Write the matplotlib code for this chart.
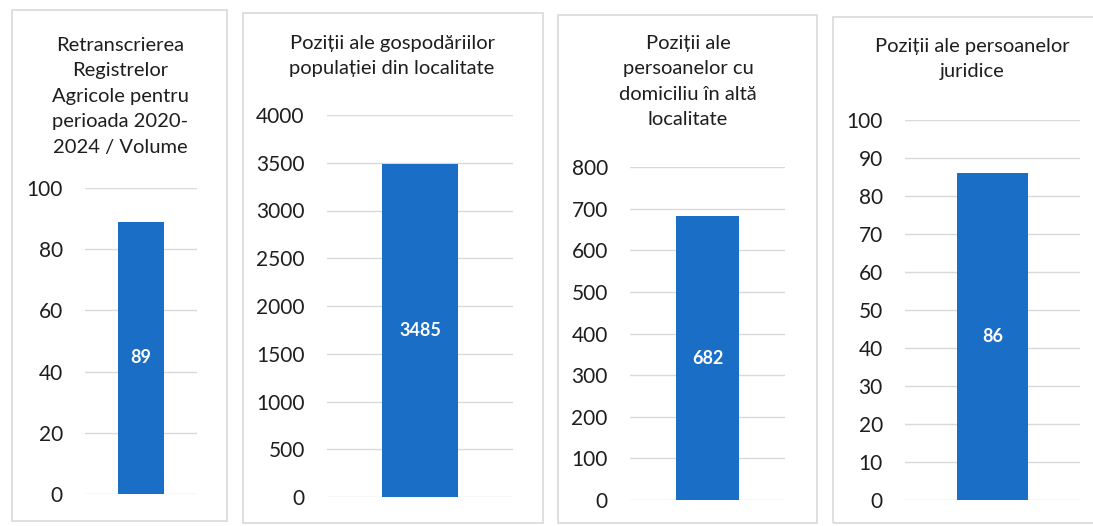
import numpy as np
import matplotlib.pyplot as plt
from matplotlib.patches import Rectangle

plt.rcParams['font.family'] = ['Lato', 'DejaVu Sans']

titles = ["Retranscrierea\nRegistrelor\nAgricole pentru\nperioada 2020-\n2024 / Volume",
          "Poziții ale gospodăriilor\npopulației din localitate",
          "Poziții ale\npersoanelor cu\ndomiciliu în altă\nlocalitate",
          "Poziții ale persoanelor\njuridice"]
values = [89, 3485, 682, 86]
y_max = [100, 4000, 800, 100]
y_step = [20, 500, 100, 10]

W, H = 1093, 526
# layout in pixels: axes left, right, top(y of ymax), bottom(y of 0)
ax_box = [(85, 197, 188, 494), (327, 513, 115, 497), (630, 785, 167, 500), (905, 1080, 120, 500)]
frame_box = [(12, 227, 10, 521), (243, 543, 13, 523), (558, 817, 15, 523), (833, 1098, 17, 523)]
title_pos = [(120, 37), (392, 35), (688, 35), (972, 38)]

bar_color = '#1b6ec6'
grid_color = '#d9d9d9'
txt_color = '#1e1e1e'

fig = plt.figure(figsize=(W / 100, H / 100), dpi=100)

for i in range(4):
    fx0, fx1, fy0, fy1 = frame_box[i]
    fig.patches.append(Rectangle((fx0 / W, 1 - fy1 / H), (fx1 - fx0) / W, (fy1 - fy0) / H,
                                 transform=fig.transFigure, fill=False,
                                 edgecolor=grid_color, linewidth=1.2))
    l, r, t, b = ax_box[i]
    ax = fig.add_axes([l / W, 1 - b / H, (r - l) / W, (b - t) / H])
    ax.bar([0], [values[i]], width=0.82, color=bar_color, zorder=3)
    ax.set_xlim(-1, 1)
    ax.set_ylim(0, y_max[i])
    ax.set_yticks(np.arange(0, y_max[i] + 1, y_step[i]))
    ax.yaxis.grid(True, color=grid_color, linewidth=1.0, zorder=0)
    ax.set_xticks([])
    for s in ax.spines.values():
        s.set_visible(False)
    ax.tick_params(axis='y', length=0, pad=16, labelsize=15, labelcolor=txt_color)
    ax.text(0, values[i] / 2, str(values[i]), ha='center', va='center',
            color='white', fontsize=13, fontweight='bold', zorder=4)
    tx, ty = title_pos[i]
    fig.text(tx / W, 1 - ty / H, titles[i], ha='center', va='top', fontsize=14.5,
             color=txt_color, linespacing=1.6)

fig.savefig('out.png', dpi=100, facecolor='white')
